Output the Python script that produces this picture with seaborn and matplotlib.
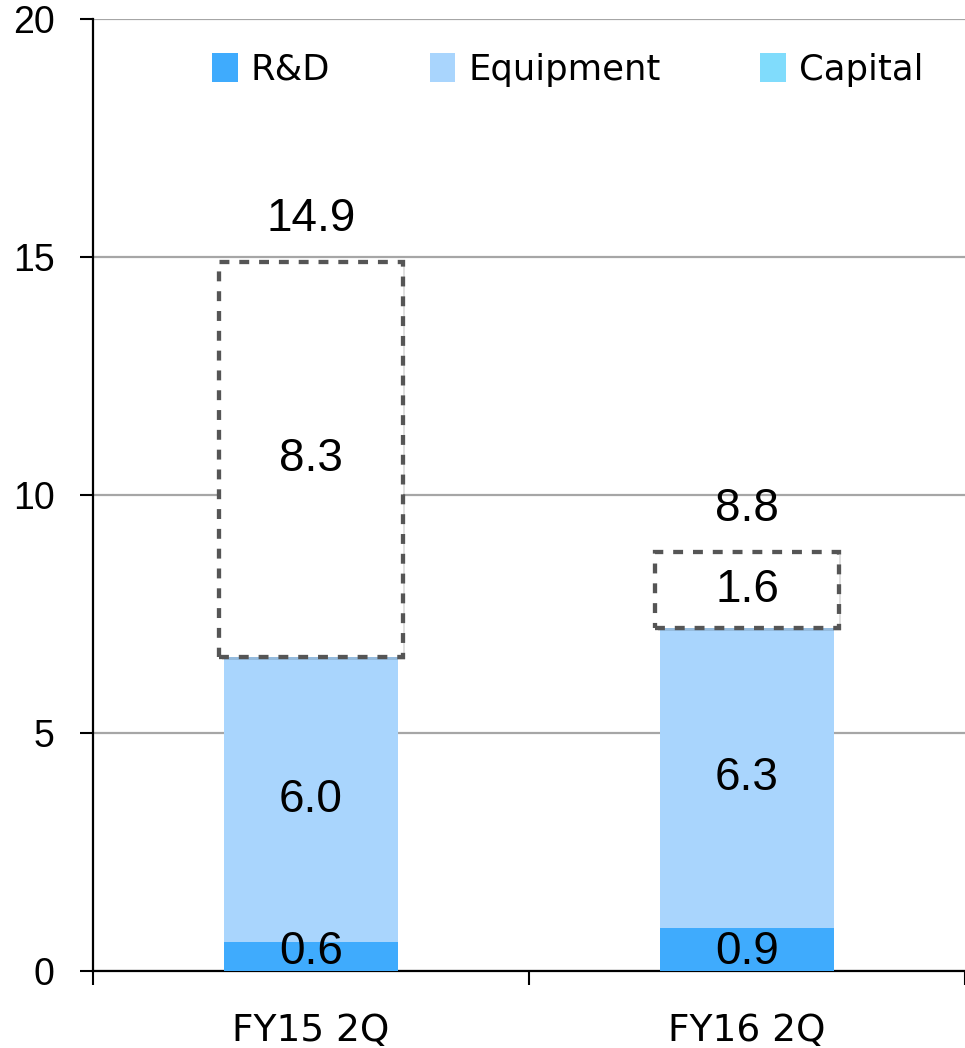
import matplotlib
matplotlib.use("Agg")
import matplotlib.pyplot as plt
import matplotlib.patheffects as pe
from matplotlib.patches import Patch
import pandas as pd
import seaborn as sns

# Data
categories = ["FY15 2Q", "FY16 2Q"]
rnd = [0.6, 0.9]
equipment = [6.0, 6.3]
capital = [8.3, 1.6]
totals = [14.9, 8.8]
series_names = ["R&D", "Equipment", "Capital"]

C_RND = "#3fabfd"
C_EQP = "#a9d5fd"
C_CAP = "#80dcfc"

sns.set_theme(style="white")
plt.rcParams["font.family"] = ["Liberation Sans", "DejaVu Sans"]
plt.rcParams["text.color"] = "black"
plt.rcParams["xtick.color"] = "black"
plt.rcParams["ytick.color"] = "black"
plt.rcParams["xtick.labelcolor"] = "black"
plt.rcParams["ytick.labelcolor"] = "black"

fig = plt.figure(figsize=(9.65, 10.48), dpi=100)
ax = fig.add_axes([0.0964, 0.0735, 0.9036, 0.9084])

df = pd.DataFrame({"cat": categories, "rnd": rnd, "eqp": equipment, "cap": capital})
df["base_eqp"] = df["rnd"]
df["base_cap"] = df["rnd"] + df["eqp"]

# Stacked bars: R&D, Equipment, then the dashed Capital box on top
sns.barplot(data=df, x="cat", y="rnd", color=C_RND, width=0.40,
            saturation=1, linewidth=0, ax=ax, zorder=3)
sns.barplot(data=df, x="cat", y="eqp", bottom=df["base_eqp"].values, color=C_EQP,
            width=0.40, saturation=1, linewidth=0, ax=ax, zorder=3)
n_before = len(ax.patches)
sns.barplot(data=df, x="cat", y="cap", bottom=df["base_cap"].values, color="white",
            width=0.42, saturation=1, edgecolor="#555555", linewidth=3.1,
            linestyle=(0, (2.3, 2.3)), ax=ax, zorder=4)
for p in ax.patches[n_before:]:
    p.set_path_effects([pe.SimplePatchShadow(offset=(2, -2), shadow_rgbFace="#000000", alpha=0.12),
                        pe.Normal()])

# Value labels
num_fs = 33
for i in range(len(categories)):
    ax.text(i, 0.4, f"{rnd[i]:.1f}", ha="center", va="center", fontsize=num_fs, color="black", zorder=6)
    ax.text(i, rnd[i] + equipment[i] / 2, f"{equipment[i]:.1f}", ha="center", va="center",
            fontsize=num_fs, color="black", zorder=6)
    ax.text(i, rnd[i] + equipment[i] + capital[i] / 2, f"{capital[i]:.1f}", ha="center", va="center",
            fontsize=num_fs, color="black", zorder=6)
    ax.annotate(f"{totals[i]:.1f}", xy=(i, totals[i]), xytext=(0, 31), textcoords="offset points",
                ha="center", va="center", fontsize=num_fs, color="black", zorder=6)

# Axes
ax.set_ylim(0, 20)
ax.set_xlim(-0.5, 1.5)
ax.set_yticks([0, 5, 10, 15, 20])
ax.set_yticklabels(["0", "5", "10", "15", "20"], fontsize=27)
ax.yaxis.grid(True, color="#a6a6a6", linewidth=1.6, zorder=0)
ax.set_axisbelow(True)
ax.set_xlabel("")
ax.set_ylabel("")

ax.set_xticks([-0.5, 0.5, 1.5])
ax.set_xticklabels(["", "", ""])
ax.set_xticks([0, 1], minor=True)
ax.set_xticklabels(categories, minor=True, fontsize=27, family=["DejaVu Sans"])
ax.tick_params(axis="x", which="minor", bottom=False, length=0, pad=30, labelcolor="black")
ax.tick_params(axis="x", which="major", bottom=True, length=10, width=1.5, color="black", direction="out")
ax.tick_params(axis="y", left=True, length=9.5, width=1.5, color="black", direction="out", pad=18,
               labelcolor="black")

for side in ["top", "right"]:
    ax.spines[side].set_visible(False)
for side in ["left", "bottom"]:
    ax.spines[side].set_color("black")
    ax.spines[side].set_linewidth(1.6)

handles = [Patch(facecolor=c, edgecolor="none") for c in (C_RND, C_EQP, C_CAP)]
ax.legend(handles, series_names, ncol=3, loc="upper right", bbox_to_anchor=(0.989, 0.998),
          frameon=False, handlelength=0.73, handleheight=0.9, handletextpad=0.37,
          columnspacing=2.8, labelcolor="black", prop={"family": ["DejaVu Sans"], "size": 25.5})

fig.savefig("out.png", dpi=100)
